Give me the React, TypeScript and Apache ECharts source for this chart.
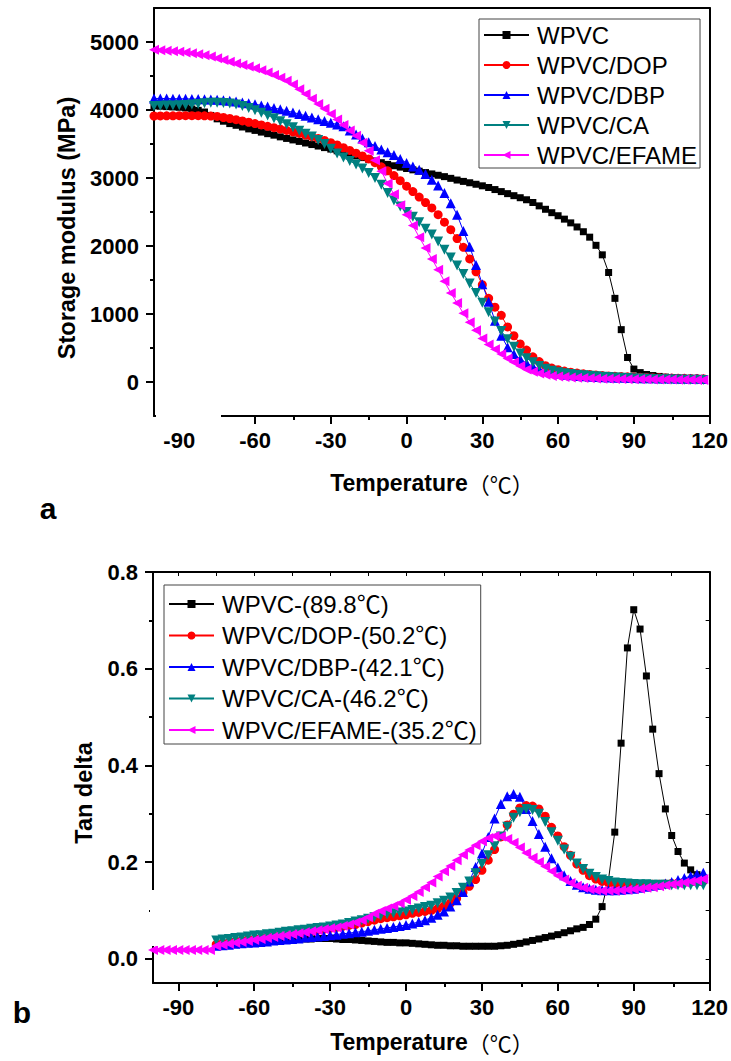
import React, { useEffect, useRef } from "react";
import * as echarts from "echarts";

// Temperatures (°C) shared by both panels
const temps = [
  -100, -97.5, -95, -92.5, -90, -87.5, -85, -82.5, -80, -77.5,
  -75, -72.5, -70, -67.5, -65, -62.5, -60, -57.5, -55, -52.5,
  -50, -47.5, -45, -42.5, -40, -37.5, -35, -32.5, -30, -27.5,
  -25, -22.5, -20, -17.5, -15, -12.5, -10, -7.5, -5, -2.5,
  0, 2.5, 5, 7.5, 10, 12.5, 15, 17.5, 20, 22.5,
  25, 27.5, 30, 32.5, 35, 37.5, 40, 42.5, 45, 47.5,
  50, 52.5, 55, 57.5, 60, 62.5, 65, 67.5, 70, 72.5,
  75, 77.5, 80, 82.5, 85, 87.5, 90, 92.5, 95, 97.5,
  100, 102.5, 105, 107.5, 110, 112.5, 115, 117.5,
];

// Panel a: storage modulus (MPa)
const aWPVC = [
  4060, 4055, 4050, 4045, 4040, 4030, 4015, 3995, 3970, 3920,
  3870, 3835, 3800, 3775, 3750, 3722, 3700, 3675, 3652, 3630,
  3605, 3582, 3560, 3538, 3515, 3492, 3470, 3447, 3425, 3400,
  3375, 3350, 3325, 3300, 3275, 3250, 3225, 3200, 3180, 3160,
  3140, 3120, 3100, 3080, 3060, 3040, 3020, 2995, 2970, 2950,
  2930, 2908, 2885, 2860, 2830, 2800, 2770, 2740, 2710, 2680,
  2640, 2590, 2540, 2490, 2445, 2395, 2340, 2280, 2210, 2130,
  2010, 1870, 1610, 1230, 770, 360, 190, 138, 110, 95,
  82, 72, 64, 57, 52, 47, 43, 40,
];
const aDOP = [
  3912, 3913, 3914, 3915, 3916, 3917, 3917, 3916, 3914, 3910,
  3905, 3890, 3875, 3858, 3840, 3820, 3800, 3780, 3760, 3740,
  3720, 3700, 3678, 3655, 3632, 3608, 3582, 3552, 3520, 3485,
  3445, 3405, 3365, 3325, 3280, 3225, 3165, 3105, 3035, 2960,
  2880, 2800, 2720, 2640, 2560, 2460, 2350, 2240, 2110, 1980,
  1810, 1620, 1430, 1230, 1100, 980, 810, 680, 560, 470,
  370, 300, 240, 205, 180, 160, 145, 132, 120, 110,
  102, 95, 89, 84, 80, 76, 73, 70, 67, 64,
  62, 60, 58, 56, 54, 52, 50, 48,
];
const aDBP = [
  4170, 4170, 4168, 4167, 4165, 4164, 4162, 4160, 4158, 4156,
  4152, 4145, 4135, 4125, 4112, 4100, 4085, 4068, 4050, 4030,
  4010, 3988, 3965, 3940, 3915, 3890, 3865, 3840, 3812, 3786,
  3760, 3700, 3640, 3580, 3525, 3470, 3420, 3380, 3340, 3280,
  3220, 3170, 3120, 3060, 2975, 2890, 2780, 2630, 2460, 2220,
  1990, 1720, 1437, 1180, 900, 680, 510, 410, 340, 280,
  230, 190, 160, 140, 120, 108, 98, 90, 84, 78,
  74, 70, 67, 64, 62, 60, 58, 56, 55, 54,
  52, 51, 50, 49, 48, 47, 46, 45,
];
const aCA = [
  4060, 4062, 4065, 4068, 4070, 4072, 4080, 4090, 4098, 4105,
  4108, 4104, 4095, 4080, 4060, 4030, 3995, 3960, 3920, 3880,
  3835, 3790, 3745, 3695, 3650, 3610, 3560, 3500, 3430, 3360,
  3300, 3250, 3200, 3140, 3075, 3000, 2900, 2780, 2670, 2580,
  2500, 2430, 2350, 2255, 2170, 2065, 1945, 1830, 1715, 1590,
  1450, 1310, 1167, 1025, 890, 750, 630, 520, 420, 350,
  290, 236, 195, 165, 145, 130, 118, 108, 100, 92,
  85, 78, 72, 66, 61, 57, 53, 50, 47, 44,
  42, 40, 38, 36, 34, 33, 32, 31,
];
const aEFAME = [
  4885, 4880, 4872, 4864, 4855, 4845, 4833, 4820, 4805, 4785,
  4760, 4735, 4710, 4685, 4660, 4640, 4615, 4585, 4550, 4515,
  4475, 4430, 4375, 4305, 4235, 4165, 4090, 4020, 3940, 3860,
  3780, 3700, 3620, 3520, 3400, 3260, 3100, 2920, 2760, 2600,
  2460, 2300, 2130, 1970, 1810, 1650, 1480, 1310, 1160, 1010,
  880, 760, 640, 550, 480, 410, 345, 290, 235, 185,
  150, 125, 105, 90, 80, 72, 66, 61, 57, 54,
  51, 49, 47, 45, 43, 42, 41, 40, 39, 38,
  37, 36, 35, 34, 33, 32, 31, 30,
];

// Panel b: tan delta (first four start at -75 °C, EFAME at -100 °C)
const bWPVC = [
  0.027, 0.028, 0.029, 0.030, 0.031, 0.032, 0.033, 0.034, 0.035, 0.036,
  0.037, 0.038, 0.039, 0.040, 0.041, 0.041, 0.042, 0.042, 0.042, 0.041,
  0.040, 0.040, 0.039, 0.038, 0.037, 0.036, 0.035, 0.034, 0.034, 0.033,
  0.033, 0.032, 0.031, 0.030, 0.029, 0.028, 0.028, 0.027, 0.027, 0.026,
  0.026, 0.026, 0.026, 0.026, 0.026, 0.027, 0.028, 0.030, 0.032, 0.035,
  0.038, 0.041, 0.044, 0.047, 0.050, 0.054, 0.058, 0.062, 0.065, 0.071,
  0.082, 0.108, 0.163, 0.262, 0.446, 0.643, 0.722, 0.682, 0.585, 0.475,
  0.383, 0.31, 0.255, 0.222, 0.198, 0.184, 0.174, 0.167,
];
const bDOP = [
  0.030, 0.032, 0.033, 0.035, 0.037, 0.039, 0.040, 0.042, 0.044, 0.046,
  0.048, 0.050, 0.051, 0.053, 0.055, 0.057, 0.059, 0.061, 0.063, 0.065,
  0.067, 0.069, 0.071, 0.074, 0.077, 0.080, 0.083, 0.085, 0.087, 0.089,
  0.091, 0.094, 0.096, 0.098, 0.100, 0.104, 0.109, 0.115, 0.125, 0.137,
  0.150, 0.164, 0.183, 0.204, 0.226, 0.252, 0.277, 0.299, 0.312, 0.317,
  0.316, 0.310, 0.295, 0.272, 0.254, 0.232, 0.214, 0.196, 0.183, 0.172,
  0.165, 0.160, 0.157, 0.155, 0.154, 0.153, 0.153, 0.153, 0.153, 0.154,
  0.154, 0.155, 0.156, 0.157, 0.158, 0.159, 0.160, 0.161,
];
const bDBP = [
  0.027, 0.028, 0.029, 0.031, 0.032, 0.033, 0.034, 0.035, 0.036, 0.038,
  0.039, 0.040, 0.041, 0.042, 0.044, 0.045, 0.046, 0.047, 0.049, 0.050,
  0.052, 0.053, 0.055, 0.056, 0.058, 0.060, 0.062, 0.064, 0.066, 0.068,
  0.070, 0.073, 0.076, 0.080, 0.085, 0.091, 0.098, 0.108, 0.121, 0.138,
  0.160, 0.190, 0.218, 0.252, 0.290, 0.320, 0.336, 0.341, 0.335, 0.310,
  0.285, 0.258, 0.232, 0.208, 0.189, 0.173, 0.161, 0.153, 0.148, 0.145,
  0.143, 0.142, 0.142, 0.142, 0.143, 0.144, 0.145, 0.147, 0.149, 0.151,
  0.153, 0.156, 0.159, 0.163, 0.167, 0.171, 0.175, 0.178,
];
const bCA = [
  0.038, 0.040, 0.041, 0.043, 0.044, 0.046, 0.048, 0.049, 0.051, 0.052,
  0.054, 0.056, 0.057, 0.059, 0.060, 0.062, 0.064, 0.065, 0.067, 0.069,
  0.071, 0.074, 0.077, 0.080, 0.083, 0.086, 0.089, 0.092, 0.094, 0.096,
  0.098, 0.101, 0.104, 0.107, 0.110, 0.115, 0.120, 0.127, 0.136, 0.147,
  0.160, 0.177, 0.196, 0.214, 0.233, 0.253, 0.273, 0.292, 0.303, 0.310,
  0.308, 0.300, 0.283, 0.262, 0.244, 0.226, 0.211, 0.197, 0.186, 0.176,
  0.169, 0.164, 0.161, 0.158, 0.157, 0.156, 0.155, 0.154, 0.154, 0.153,
  0.153, 0.153, 0.152, 0.152, 0.152, 0.152, 0.152, 0.152,
];
const bEFAME = [
  0.018, 0.018, 0.018, 0.018, 0.018, 0.018, 0.018, 0.018, 0.018, 0.018,
  0.027, 0.029, 0.031, 0.033, 0.035, 0.037, 0.039, 0.041, 0.043, 0.045,
  0.047, 0.049, 0.051, 0.053, 0.055, 0.057, 0.059, 0.061, 0.063, 0.065,
  0.068, 0.071, 0.075, 0.080, 0.086, 0.093, 0.099, 0.104, 0.109, 0.115,
  0.122, 0.130, 0.138, 0.148, 0.158, 0.170, 0.181, 0.192, 0.204, 0.215,
  0.225, 0.235, 0.243, 0.250, 0.254, 0.253, 0.248, 0.240, 0.230, 0.219,
  0.209, 0.200, 0.191, 0.181, 0.172, 0.164, 0.157, 0.151, 0.147, 0.144,
  0.142, 0.141, 0.141, 0.141, 0.142, 0.143, 0.144, 0.145, 0.147, 0.148,
  0.150, 0.152, 0.154, 0.156, 0.158, 0.160, 0.162, 0.165,
];

const namesA = ["WPVC", "WPVC/DOP", "WPVC/DBP", "WPVC/CA", "WPVC/EFAME"];
const namesB = [
  "WPVC-(89.8℃)",
  "WPVC/DOP-(50.2℃)",
  "WPVC/DBP-(42.1℃)",
  "WPVC/CA-(46.2℃)",
  "WPVC/EFAME-(35.2℃)",
];
const xTickLabels = [-90, -60, -30, 0, 30, 60, 90, 120];
const xMinorTicks = [-75, -45, -15, 15, 45, 75, 105];
const xTopTicksB = [-90, -75, -60, -45, -30, -15, 0, 15, 30, 45, 60, 75, 90, 105];
const yTickLabelsA = [0, 1000, 2000, 3000, 4000, 5000];
const yMinorTicksA = [500, 1500, 2500, 3500, 4500];
const yTickLabelsB = [0, 0.2, 0.4, 0.6, 0.8];
const yMinorTicksB = [0.1, 0.3, 0.5, 0.7];
const yRightTicksB = [0, 0.1, 0.2, 0.3, 0.4, 0.5, 0.6, 0.7];

const FONT = "Arial, 'Liberation Sans', 'Noto Sans CJK SC', sans-serif";

const styles = [
  { color: "#000000", symbol: "rect", size: 7, rotate: 0 },
  { color: "#ff0000", symbol: "circle", size: 9, rotate: 0 },
  { color: "#0000ff", symbol: "triangle", size: 10, rotate: 0 },
  { color: "#008080", symbol: "triangle", size: 10, rotate: 180 },
  { color: "#ff00ff", symbol: "triangle", size: 10, rotate: 90 },
];

function makeSeries(name: string, idx: number, t: number[], v: number[], axisIdx: number) {
  const s = styles[idx];
  return {
    type: "line",
    name,
    xAxisIndex: axisIdx,
    yAxisIndex: axisIdx,
    data: t.map((x, i) => [x, v[i]]),
    symbol: s.symbol,
    symbolSize: s.size,
    symbolRotate: s.rotate,
    showAllSymbol: true,
    lineStyle: { color: s.color, width: 1 },
    itemStyle: { color: s.color },
    emphasis: { disabled: true },
  };
}

const axisLine = { show: true, onZero: false, lineStyle: { color: "#000", width: 2 } };
const noLine = { show: false, onZero: false };
const tickLabel = { fontFamily: FONT, fontWeight: "bold" as const, fontSize: 22, color: "#000" };

function panelAxes(
  gMain: number,
  gOverlay: number,
  yMin: number,
  yMax: number,
  yLabels: number[],
  yMinor: number[],
  fmt: (v: number) => string,
  topTicks: number[] | null,
  rightTicks: number[] | null
) {
  const xAxes = [
    {
      type: "value", gridIndex: gMain, position: "bottom", min: -100, max: 120,
      axisLine,
      axisTick: { show: true, customValues: xTickLabels, length: 8, lineStyle: { width: 2, color: "#000" } },
      axisLabel: { ...tickLabel, customValues: xTickLabels, margin: 13 },
      splitLine: { show: false },
    },
    {
      type: "value", gridIndex: gMain, position: "top", min: -100, max: 120,
      axisLine,
      axisTick: topTicks
        ? { show: true, inside: true, customValues: topTicks, length: 4, lineStyle: { width: 1, color: "#000" } }
        : { show: false },
      axisLabel: { show: false },
      splitLine: { show: false },
    },
    {
      type: "value", gridIndex: gOverlay, position: "bottom", min: -100, max: 120,
      axisLine: noLine,
      axisTick: { show: true, customValues: xMinorTicks, length: 4, lineStyle: { width: 2, color: "#000" } },
      axisLabel: { show: false },
      splitLine: { show: false },
    },
  ];
  const yAxes = [
    {
      type: "value", gridIndex: gMain, position: "left", min: yMin, max: yMax,
      axisLine,
      axisTick: { show: true, customValues: yLabels, length: 8, lineStyle: { width: 2, color: "#000" } },
      axisLabel: { ...tickLabel, customValues: yLabels, margin: 15, formatter: fmt },
      splitLine: { show: false },
    },
    {
      type: "value", gridIndex: gMain, position: "right", min: yMin, max: yMax,
      axisLine,
      axisTick: rightTicks
        ? { show: true, inside: true, customValues: rightTicks, length: 4, lineStyle: { width: 1, color: "#000" } }
        : { show: false },
      axisLabel: { show: false },
      splitLine: { show: false },
    },
    {
      type: "value", gridIndex: gOverlay, position: "left", min: yMin, max: yMax,
      axisLine: noLine,
      axisTick: { show: true, customValues: yMinor, length: 4, lineStyle: { width: 2, color: "#000" } },
      axisLabel: { show: false },
      splitLine: { show: false },
    },
  ];
  return { xAxes, yAxes };
}

function legendOpt(names: string[], left: number, top: number, gap: number, padding: number[]) {
  return {
    orient: "vertical",
    left,
    top,
    data: names,
    selectedMode: false,
    itemWidth: 45,
    itemHeight: 10,
    itemGap: gap,
    padding,
    borderColor: "#444",
    borderWidth: 1,
    backgroundColor: "#fff",
    textStyle: { fontFamily: FONT, fontSize: 24, color: "#000", lineHeight: 24, padding: [0, 0, 0, 3] },
  };
}

function titleRich(x: number, y: number) {
  return {
    type: "text",
    x,
    y,
    z: 100,
    style: {
      text: "{t|Temperature}{c|（℃）}",
      align: "center",
      verticalAlign: "middle",
      rich: {
        t: { fontFamily: FONT, fontWeight: "bold", fontSize: 23, fill: "#000", lineHeight: 24 },
        c: { fontFamily: "'Noto Sans CJK SC', sans-serif", fontWeight: "normal", fontSize: 22, fill: "#000", lineHeight: 24 },
      },
    },
  };
}

export default function App() {
  const ref = useRef<HTMLDivElement>(null);
  useEffect(() => {
    if (!ref.current) return;
    const chart = echarts.init(ref.current, undefined, { renderer: "svg" });
    const pa = panelAxes(0, 1, -500, 5500, yTickLabelsA, yMinorTicksA, (v) => String(v), null, null);
    const pb = panelAxes(2, 3, -0.05, 0.8, yTickLabelsB, yMinorTicksB, (v) => v.toFixed(1), xTopTicksB, yRightTicksB);
    const tB = temps.slice(10);
    const series = [
      makeSeries(namesA[0], 0, temps, aWPVC, 0),
      makeSeries(namesA[1], 1, temps, aDOP, 0),
      makeSeries(namesA[2], 2, temps, aDBP, 0),
      makeSeries(namesA[3], 3, temps, aCA, 0),
      makeSeries(namesA[4], 4, temps, aEFAME, 0),
      makeSeries(namesB[0], 0, tB, bWPVC, 3),
      makeSeries(namesB[1], 1, tB, bDOP, 3),
      makeSeries(namesB[2], 2, tB, bDBP, 3),
      makeSeries(namesB[3], 3, tB, bCA, 3),
      makeSeries(namesB[4], 4, temps, bEFAME, 3),
    ];
    chart.setOption({
      animation: false,
      backgroundColor: "#fff",
      grid: [
        { left: 154, top: 8, width: 557, height: 408 },
        { left: 154, top: 8, width: 557, height: 408 },
        { left: 153, top: 572, width: 559, height: 411 },
        { left: 153, top: 572, width: 559, height: 411 },
      ],
      xAxis: [...pa.xAxes, ...pb.xAxes],
      yAxis: [...pa.yAxes, ...pb.yAxes],
      legend: [
        legendOpt(namesA, 479, 19, 6, [4, 3, 1, 4]),
        legendOpt(namesB, 164, 585, 7.5, [7, 4, 2, 4]),
      ],
      series,
      graphic: [
        { type: "rect", z: 100, shape: { x: 156, y: 413, width: 65, height: 14 }, style: { fill: "#fff" } },
        { type: "rect", z: 100, shape: { x: 150, y: 890, width: 8, height: 56 }, style: { fill: "#fff" } },
        {
          type: "text", x: 67, y: 228, rotation: Math.PI / 2, z: 100,
          style: { text: "Storage modulus (MPa)", align: "center", verticalAlign: "middle", fontFamily: FONT, fontWeight: "bold", fontSize: 23.5, fill: "#000" },
        },
        {
          type: "text", x: 84, y: 793, rotation: Math.PI / 2, z: 100,
          style: { text: "Tan delta", align: "center", verticalAlign: "middle", fontFamily: FONT, fontWeight: "bold", fontSize: 23.5, fill: "#000" },
        },
        titleRich(432, 483),
        titleRich(432, 1042),
        {
          type: "text", x: 48, y: 508, z: 100,
          style: { text: "a", align: "center", verticalAlign: "middle", fontFamily: FONT, fontWeight: "bold", fontSize: 30, fill: "#000" },
        },
        {
          type: "text", x: 22, y: 1012, z: 100,
          style: { text: "b", align: "center", verticalAlign: "middle", fontFamily: FONT, fontWeight: "bold", fontSize: 30, fill: "#000" },
        },
      ],
    });
    return () => chart.dispose();
  }, []);
  return <div ref={ref} style={{ position: "absolute", left: 0, top: 0, width: 731, height: 1061 }} />;
}
